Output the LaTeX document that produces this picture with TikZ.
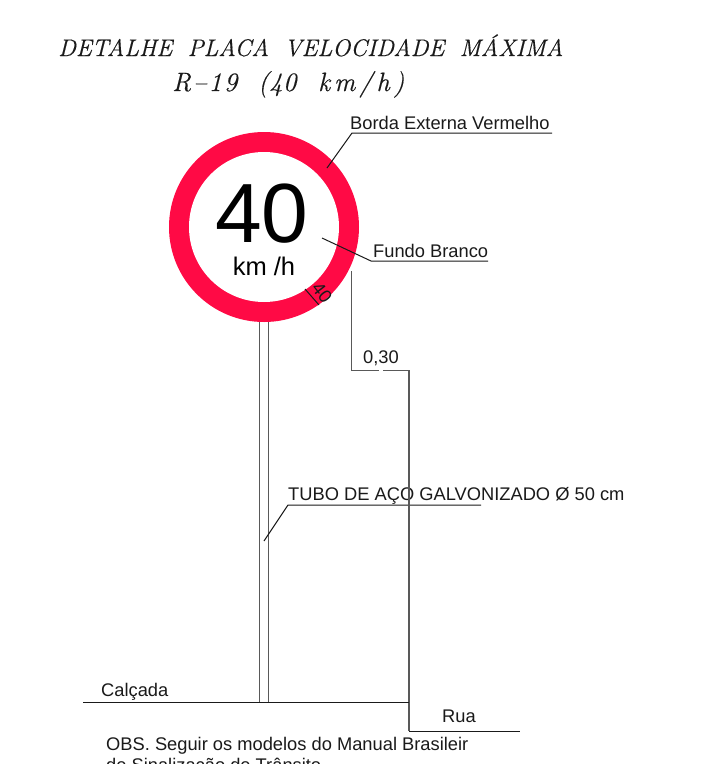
\documentclass[tikz,border=0pt]{standalone}
\usepackage{fontspec}
\setsansfont{Liberation Sans}
\newfontfamily\ttlA{Latin Modern Roman}[ItalicFeatures={FakeBold=0.4}]
\newfontfamily\ttlB{Latin Modern Roman}[ItalicFeatures={FakeBold=0.4,LetterSpace=8}]
\newfontfamily\ttlC{Latin Modern Roman}[ItalicFeatures={FakeBold=0.4,LetterSpace=2}]
\newfontfamily\ttlD{Latin Modern Roman}[ItalicFeatures={FakeBold=0.4,LetterSpace=15}]
\definecolor{signred}{HTML}{FF0A45}
\definecolor{inkc}{HTML}{1A1A1A}
\tikzset{
  lab/.style={font=\sffamily\fontsize{18.3}{20}\selectfont,text=inkc,inner sep=0pt,anchor=base west},
  ttl/.style={text=inkc,inner sep=0pt,anchor=base west},
  leader/.style={draw=inkc,line width=1pt},
  wire/.style={draw=black!65,line width=1.5pt}
}
\begin{document}
\begin{tikzpicture}[x=1pt,y=-1pt]
\useasboundingbox (0,0) rectangle (718,764);
\clip (0,0) rectangle (718,764);
\fill[white] (0,0) rectangle (718,764);
% title
\node[ttl,font=\ttlA\itshape\fontsize{24}{26}\selectfont] (t1) at (58,56) {DETALHE\hspace{7pt} PLACA\hspace{7pt} VELOCIDADE\hspace{7pt} MÁXIMA};
\node[ttl,font=\ttlB\itshape\fontsize{26.5}{28}\selectfont] (t2a) at (172,91) {R–19};
\node[ttl,font=\ttlC\itshape\fontsize{26.5}{28}\selectfont] (t2b) at (258,91) {(40};
\node[ttl,font=\ttlD\itshape\fontsize{26.5}{28}\selectfont] (t2c) at (318,91) {km/h)};
% sign
\node[circle,draw=none,fill=signred,minimum size=190pt,inner sep=0pt] (ring) at (264,227) {};
\node[circle,draw=none,fill=white,minimum size=150pt,inner sep=0pt] (disc) at (264,227) {};
\node[font=\sffamily\fontsize{84}{86}\selectfont,text=black,inner sep=0pt,anchor=base] (n40) at (262,242) {40};
\node[font=\sffamily\fontsize{25.5}{27}\selectfont,text=black,inner sep=0pt,anchor=base] (kmh) at (264,275) {km /h};
% pole
\coordinate (pL) at (259.6,322); \coordinate (pLb) at (259.6,702);
\coordinate (pR) at (268.6,322); \coordinate (pRb) at (268.6,702);
\draw[wire] (pL) -- (pLb);
\draw[wire] (pR) -- (pRb);
% labels
\node[lab] (borda) at (350,129) {Borda Externa Vermelho};
\node[lab] (fundo) at (373,257) {Fundo Branco};
\node[lab] (dim) at (363,363) {0,30};
\node[lab] (tubo) at (288,500) {TUBO DE AÇO GALVONIZADO Ø 50 cm};
\node[lab] (calc) at (101,696) {Calçada};
\node[lab] (rua) at (442,722) {Rua};
\node[lab] (obs) at (106,750) {OBS. Seguir os modelos do Manual Brasileir};
\node[lab] (obs2) at (106,771) {de Sinalização de Trânsito};
\node[font=\sffamily\fontsize{18.3}{20}\selectfont,text=inkc,inner sep=0pt,rotate=-52] (d40) at (322,293) {40};
% leaders
\coordinate (a1) at (327,168); \coordinate (a2) at (352,133); \coordinate (a3) at (552,133);
\draw[leader] (a1) -- (a2) -- (a3);
\coordinate (b1) at (322,238); \coordinate (b2) at (371,261); \coordinate (b3) at (488,261);
\draw[leader] (b1) -- (b2) -- (b3);
\coordinate (c1) at (264,541); \coordinate (c2) at (288,505); \coordinate (c3) at (481,505);
\draw[leader] (c1) -- (c2) -- (c3);
\coordinate (e1) at (305,289); \coordinate (e2) at (319,305);
\draw[leader] (e1) -- (e2);
% dimension
\coordinate (f1) at (351.6,271); \coordinate (f2) at (351.6,370.5); \coordinate (f3) at (379,370.5);
\coordinate (g1) at (383,370.5); \coordinate (g2) at (409,370.5); \coordinate (g3) at (409,731); \coordinate (g4) at (520,731);
\draw[wire] (f1) -- (f2) -- (f3);
\draw[wire] (g1) -- (g2) -- (g3);
\draw[leader] (g3) -- (g4);
% ground
\coordinate (h1) at (83,702); \coordinate (h2) at (409,702);
\draw[leader] (h1) -- (h2);
\end{tikzpicture}
\end{document}
